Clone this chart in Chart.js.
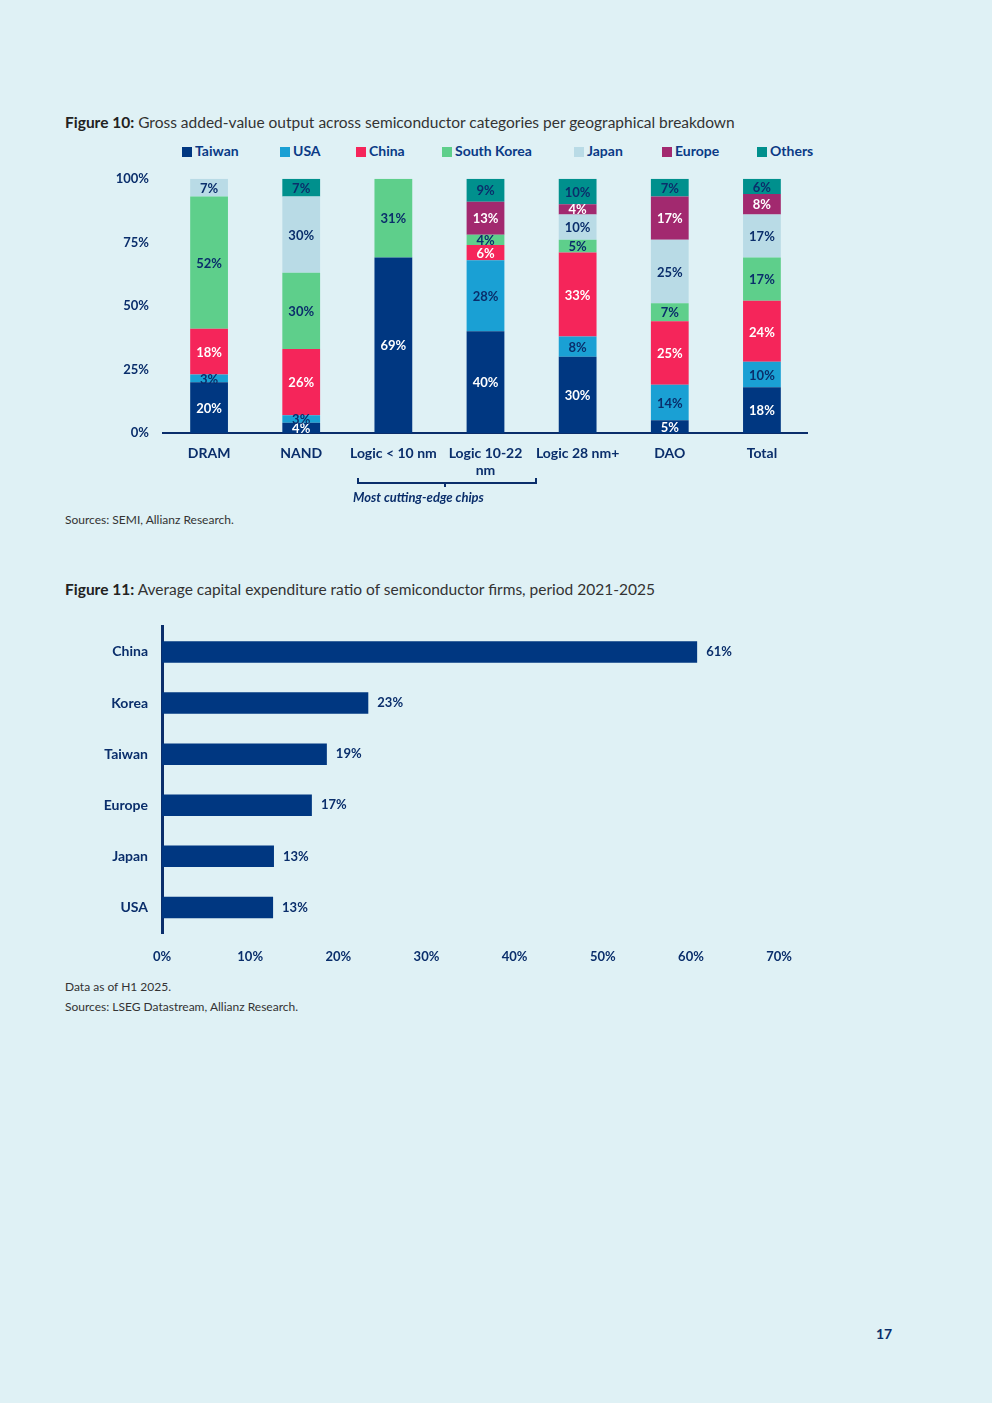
<!DOCTYPE html>
<html lang="en">
<head>
<meta charset="UTF-8">
<title>Figures 10 and 11</title>
<script src="https://cdn.jsdelivr.net/npm/chart.js"></script>
<style>
  body { margin:0; width:992px; height:1403px; background:#dff1f5; font-family:Lato, "Open Sans", sans-serif; color:#0a2e6b; position:relative; overflow:hidden; }
  .abs { position:absolute; }
  .title { font-size:15.5px; color:#333; }
  .title b { color:#222; }
  .legend span { position:absolute; font-size:14px; font-weight:bold; color:#0a3a86; white-space:nowrap; }
  .legend i { display:inline-block; width:10px; height:10px; margin-right:3px; vertical-align:-1px; }
  .note { font-size:12px; color:#333; }
</style>
</head>
<body>
<div class="abs title" style="left:65px;top:113px"><b>Figure 10:</b> Gross added-value output across semiconductor categories per geographical breakdown</div>
<div class="legend" id="legend"></div>
<div class="abs" style="left:90px;top:165px;width:718px;height:320px"><canvas id="fig10"></canvas></div>
<div class="abs" style="left:357px;top:478px;width:176px;height:4px;border:2px solid #0a2e6b;border-top:none"></div>
<div class="abs" style="left:444px;top:482px;width:2px;height:5px;background:#0a2e6b"></div>
<div class="abs" style="left:353px;top:489px;font-size:13px;font-weight:bold;font-style:italic;color:#0a2e6b">Most cutting-edge chips</div>
<div class="abs note" style="left:65px;top:512px">Sources: SEMI, Allianz Research.</div>

<div class="abs title" style="left:65px;top:580px"><b>Figure 11:</b> Average capital expenditure ratio of semiconductor firms, period 2021-2025</div>
<div class="abs" style="left:90px;top:612px;width:710px;height:361px"><canvas id="fig11"></canvas></div>
<div class="abs note" style="left:65px;top:979px">Data as of H1 2025.</div>
<div class="abs note" style="left:65px;top:999px">Sources: LSEG Datastream, Allianz Research.</div>
<div class="abs" style="left:876px;top:1325px;font-size:14px;font-weight:bold;color:#0a2e6b">17</div>

<script>
// Figure 10 data
const categories = ['DRAM', 'NAND', 'Logic < 10 nm', ['Logic 10-22', 'nm'], 'Logic 28 nm+', 'DAO', 'Total'];
const regions = ['Taiwan', 'USA', 'China', 'South Korea', 'Japan', 'Europe', 'Others'];
const taiwan     = [20, 4, 69, 40, 30, 5, 18];
const usa        = [3, 3, 0, 28, 8, 14, 10];
const china      = [18, 26, 0, 6, 33, 25, 24];
const southKorea = [52, 30, 31, 4, 5, 7, 17];
const japan      = [7, 30, 0, 0, 10, 25, 17];
const europe     = [0, 0, 0, 13, 4, 17, 8];
const others     = [0, 7, 0, 9, 10, 7, 6];
const yTicks = [0, 25, 50, 75, 100];

// Figure 11 data
const capexRegions = ['China', 'Korea', 'Taiwan', 'Europe', 'Japan', 'USA'];
const capexRatio = [60.7, 23.4, 18.7, 17.0, 12.7, 12.6];
const capexLabels = ['61%', '23%', '19%', '17%', '13%', '13%'];

const colors = ['#003781', '#1aa0d4', '#f5255a', '#5ecf8b', '#b9dbe6', '#a2296f', '#00908d'];
const labelColors = ['#fff', '#0a2e6b', '#fff', '#0a2e6b', '#0a2e6b', '#fff', '#0a2e6b'];
const dark = '#0a2e6b';
const font = 'Lato, "Open Sans", sans-serif';

const legendX = [182, 280, 356, 442, 574, 662, 757];
document.getElementById('legend').innerHTML = regions.map((r, i) =>
  `<span style="left:${legendX[i]}px;top:142px"><i style="background:${colors[i]}"></i>${r}</span>`).join('');

const barLabels = {
  id: 'barLabels',
  afterDatasetsDraw(chart, args, opts) {
    const ctx = chart.ctx;
    ctx.save();
    ctx.font = 'bold 13px ' + font;
    ctx.textBaseline = 'middle';
    chart.data.datasets.forEach((ds, di) => {
      chart.getDatasetMeta(di).data.forEach((el, i) => {
        const v = ds.data[i];
        if (!v) return;
        if (opts.horizontal) {
          ctx.fillStyle = dark;
          ctx.textAlign = 'left';
          ctx.fillText(opts.text[i], el.x + 9, el.y);
        } else {
          ctx.fillStyle = ds.labelColor;
          ctx.textAlign = 'center';
          ctx.fillText(v + '%', el.x, (el.y + el.base) / 2 + 1);
        }
      });
    });
    ctx.restore();
  }
};

const series = [taiwan, usa, china, southKorea, japan, europe, others];
new Chart(document.getElementById('fig10'), {
  type: 'bar',
  data: {
    labels: categories,
    datasets: series.map((d, i) => ({
      label: regions[i], data: d, backgroundColor: colors[i], labelColor: labelColors[i],
      categoryPercentage: 1, barPercentage: 0.41
    }))
  },
  options: {
    responsive: true, maintainAspectRatio: false, animation: false,
    layout: { padding: { top: 2 } },
    plugins: { legend: { display: false }, tooltip: { enabled: false }, barLabels: {} },
    scales: {
      x: {
        stacked: true,
        grid: { display: false },
        border: { color: dark, width: 2 },
        ticks: { color: dark, font: { family: font, size: 14, weight: 'bold' }, padding: 4, maxRotation: 0 },
        afterFit: s => { s.height = 52; }
      },
      y: {
        stacked: true, min: 0, max: 100,
        grid: { display: false },
        border: { display: false },
        afterBuildTicks: s => { s.ticks = yTicks.map(v => ({ value: v })); },
        ticks: { color: dark, font: { family: font, size: 13, weight: 'bold' }, padding: 6, callback: v => v + '%' },
        afterFit: s => { s.width = 73; }
      }
    }
  },
  plugins: [barLabels]
});

new Chart(document.getElementById('fig11'), {
  type: 'bar',
  data: {
    labels: capexRegions,
    datasets: [{ data: capexRatio, backgroundColor: '#003781', categoryPercentage: 1, barPercentage: 0.42 }]
  },
  options: {
    indexAxis: 'y',
    responsive: true, maintainAspectRatio: false, animation: false,
    layout: { padding: { top: 0, right: 15 } },
    plugins: { legend: { display: false }, tooltip: { enabled: false }, barLabels: { horizontal: true, text: capexLabels } },
    scales: {
      x: {
        min: 0, max: 70,
        grid: { display: false },
        border: { display: false },
        ticks: { stepSize: 10, color: dark, font: { family: font, size: 13, weight: 'bold' }, padding: 8, callback: v => v + '%' },
        afterFit: s => { s.height = 40; }
      },
      y: {
        grid: { display: false },
        border: { color: dark, width: 3 },
        ticks: { color: dark, font: { family: font, size: 14, weight: 'bold' }, padding: 6 },
        afterFit: s => { s.width = 72; }
      }
    }
  },
  plugins: [barLabels]
});
</script>
</body>
</html>
